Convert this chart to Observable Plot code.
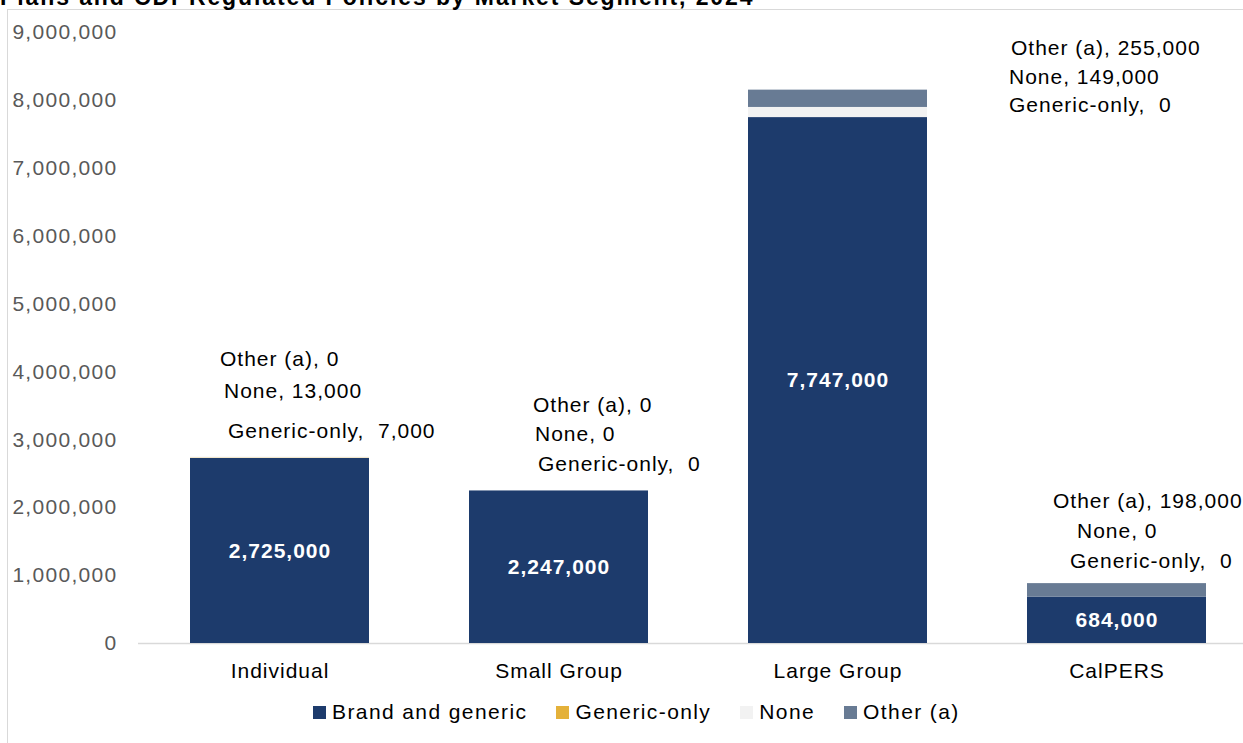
<!DOCTYPE html>
<html><head><meta charset="utf-8">
<script src="https://cdn.jsdelivr.net/npm/d3@7"></script>
<script src="https://cdn.jsdelivr.net/npm/@observablehq/plot@0.6"></script>
<style>
body{margin:0;width:1243px;height:743px;overflow:hidden;position:relative;background:#fff;font-family:"Liberation Sans",Arial,sans-serif;}
#frame{position:absolute;left:7px;top:9px;width:1300px;height:800px;border-left:1.5px solid #d9d9d9;border-top:1.5px solid #d9d9d9;}
#chart{position:absolute;left:0;top:0;}
#title{position:absolute;left:0;top:-16px;line-height:26px;font-weight:bold;font-size:23px;letter-spacing:1.9px;white-space:nowrap;color:#000;}
#legend{position:absolute;left:313px;top:700px;display:flex;align-items:center;font-size:21px;letter-spacing:1.4px;color:#000;line-height:24px;}
#legend .item{display:flex;align-items:center;margin-right:29px;}
#legend .sw{width:13px;height:13px;margin-right:6px;}
#chart svg text{letter-spacing:1px;}
#chart svg g[aria-label="y-axis tick label"] text{letter-spacing:1.3px;}
</style></head>
<body>
<div id="frame"></div>
<div id="title">Plans and CDI-Regulated Policies by Market Segment, 2024</div>
<div id="chart"></div>
<div id="legend"></div>
<script>
const categories = ["Individual", "Small Group", "Large Group", "CalPERS"];
const seriesNames = ["Brand and generic", "Generic-only", "None", "Other (a)"];
const brandAndGeneric = [2725000, 2247000, 7747000, 684000];
const genericOnly = [7000, 0, 0, 0];
const none = [13000, 0, 149000, 0];
const other = [0, 0, 255000, 198000];
const yTicks = [0, 1000000, 2000000, 3000000, 4000000, 5000000, 6000000, 7000000, 8000000, 9000000];
const colors = ["#1d3b6c", "#e4b13a", "#f2f2f2", "#687b94"];

const seriesValues = [brandAndGeneric, genericOnly, none, other];
const rows = [];
seriesNames.forEach((s, si) => categories.forEach((c, ci) => rows.push({category: c, series: s, value: seriesValues[si][ci]})));
const totals = categories.map((c, ci) => ({category: c, total: d3.sum(seriesValues, v => v[ci])}));

// label layout: pixel offsets [dx, dy] from each bar's top centre
const labelLayout = {
  "Individual": {"Generic-only": [-52, -26], "None": [-56, -66], "Other (a)": [-60, -98]},
  "Small Group": {"Generic-only": [-21, -27], "None": [-24, -57], "Other (a)": [-26, -86]},
  "Large Group": {"Generic-only": [171, 15], "None": [171, -13], "Other (a)": [173, -42]},
  "CalPERS": {"Generic-only": [-47, -22], "None": [-40, -52], "Other (a)": [-64, -82]}
};
const fmt = d3.format(",");
const labelMarks = [];
categories.forEach((c, ci) => {
  ["Generic-only", "None", "Other (a)"].forEach(s => {
    const si = seriesNames.indexOf(s);
    const [dx, dy] = labelLayout[c][s];
    labelMarks.push(Plot.text([totals[ci]], {
      x: "category", y: "total",
      text: () => s + ", " + (s === "Generic-only" ? "\u00a0" : "") + fmt(seriesValues[si][ci]),
      dx, dy, textAnchor: "start", fill: "#000", fontSize: 21
    }));
  });
});

const plot = Plot.plot({
  width: 1243,
  height: 690,
  marginTop: 32,
  marginBottom: 47,
  marginLeft: 138,
  marginRight: 0,
  style: {fontFamily: '"Liberation Sans", Arial, sans-serif', background: "transparent", overflow: "hidden"},
  x: {domain: categories, range: [138, 1258], paddingInner: 0.357, paddingOuter: 0.1786, label: null},
  y: {domain: [0, 9000000], label: null},
  color: {domain: seriesNames, range: colors},
  marks: [
    Plot.ruleY([0], {stroke: "#d9d9d9", strokeWidth: 1.5}),
    Plot.barY(rows, {x: "category", y: "value", fill: "series", order: seriesNames}),
    Plot.text(rows.filter(d => d.series === "Brand and generic"), {
      x: "category", y: d => d.value / 2, text: d => fmt(d.value),
      fill: "white", fontWeight: "bold", fontSize: 21
    }),
    ...labelMarks,
    Plot.axisY({ticks: yTicks, tickSize: 0, tickPadding: 21, tickFormat: fmt, fontSize: 21, color: "#595959", label: null}),
    Plot.axisX({tickSize: 0, tickPadding: 20, fontSize: 21, color: "#000", label: null})
  ]
});
document.getElementById("chart").appendChild(plot);

const legend = document.getElementById("legend");
seriesNames.forEach((s, i) => {
  const item = document.createElement("div");
  item.className = "item";
  item.innerHTML = `<span class="sw" style="background:${colors[i]}"></span><span>${s}</span>`;
  legend.appendChild(item);
});
</script>
</body></html>
